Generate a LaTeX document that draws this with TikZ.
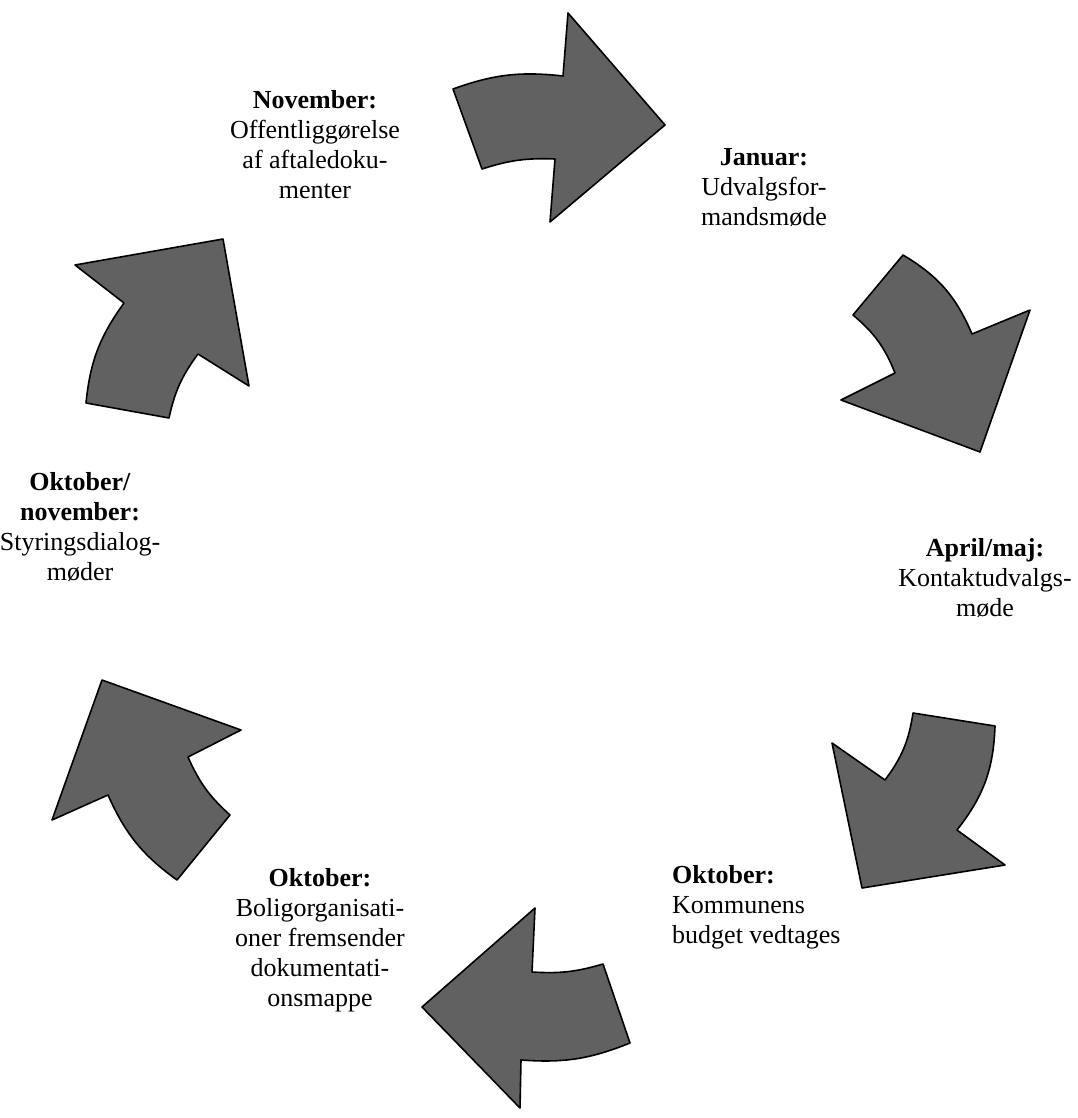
\documentclass[tikz,border=0pt]{standalone}
\usepackage{fontspec}
\setmainfont{Liberation Serif}
\usepackage{tikz}
\usetikzlibrary{positioning}

\begin{document}
\begin{tikzpicture}[x=1pt, y=-1pt, textnode/.style={align=center, font=\fontsize{26}{30}\selectfont, inner sep=0pt}, cyclearrow/.style={draw=black, line width=1.6pt, line join=round, fill=black!62}]

    \useasboundingbox (0,0) rectangle (1077,1118);

    %Text
    \node[textnode](november) at (315,145) {\textbf{November:}\\Offentliggørelse\\af aftaledoku-\\menter};
    \node[textnode](januar) at (764,188) {\textbf{Januar:}\\Udvalgsfor-\\mandsmøde};
    \node[textnode](aprilmaj) at (985,578) {\textbf{April/maj:}\\Kontaktudvalgs-\\møde};
    \node[textnode, align=left, anchor=west](oktkommune) at (672,907) {\textbf{Oktober:}\\Kommunens\\budget vedtages};
    \node[textnode](oktbolig) at (320,940) {\textbf{Oktober:}\\Boligorganisati-\\oner fremsender\\dokumentati-\\onsmappe};
    \node[textnode](oktnov) at (80,527) {\textbf{Oktober/}\\\textbf{november:}\\Styringsdialog-\\møder};

    %Arrows
    \draw[cyclearrow] (453,89) to[bend left=13] (563,76) -- (568,13) -- (665,125) -- (550,222) -- (555,159) to[bend right=10] (482,169) -- cycle;
    \draw[cyclearrow] (903,255) to[bend left=18] (972,334) -- (1030,310) -- (980,452) -- (841,400) -- (895,373) to[bend right=14] (853,315) -- cycle;
    \draw[cyclearrow] (995,726) to[bend left=18] (957,830) -- (1005,865) -- (862,888) -- (832,743) -- (885,780) to[bend right=14] (913,713) -- cycle;
    \draw[cyclearrow] (630,1043) to[bend left=13] (521,1060) -- (520,1108) -- (422,1007) -- (535,908) -- (532,972) to[bend right=10] (603,964) -- cycle;
    \draw[cyclearrow] (177,880) to[bend left=15] (108,795) -- (52,820) -- (102,680) -- (241,730) -- (188,757) to[bend right=12] (230,815) -- cycle;
    \draw[cyclearrow] (86,403) to[bend left=15] (124,303) -- (75,265) -- (223,239) -- (249,386) -- (198,354) to[bend right=12] (169,418) -- cycle;

\end{tikzpicture}
\end{document}
